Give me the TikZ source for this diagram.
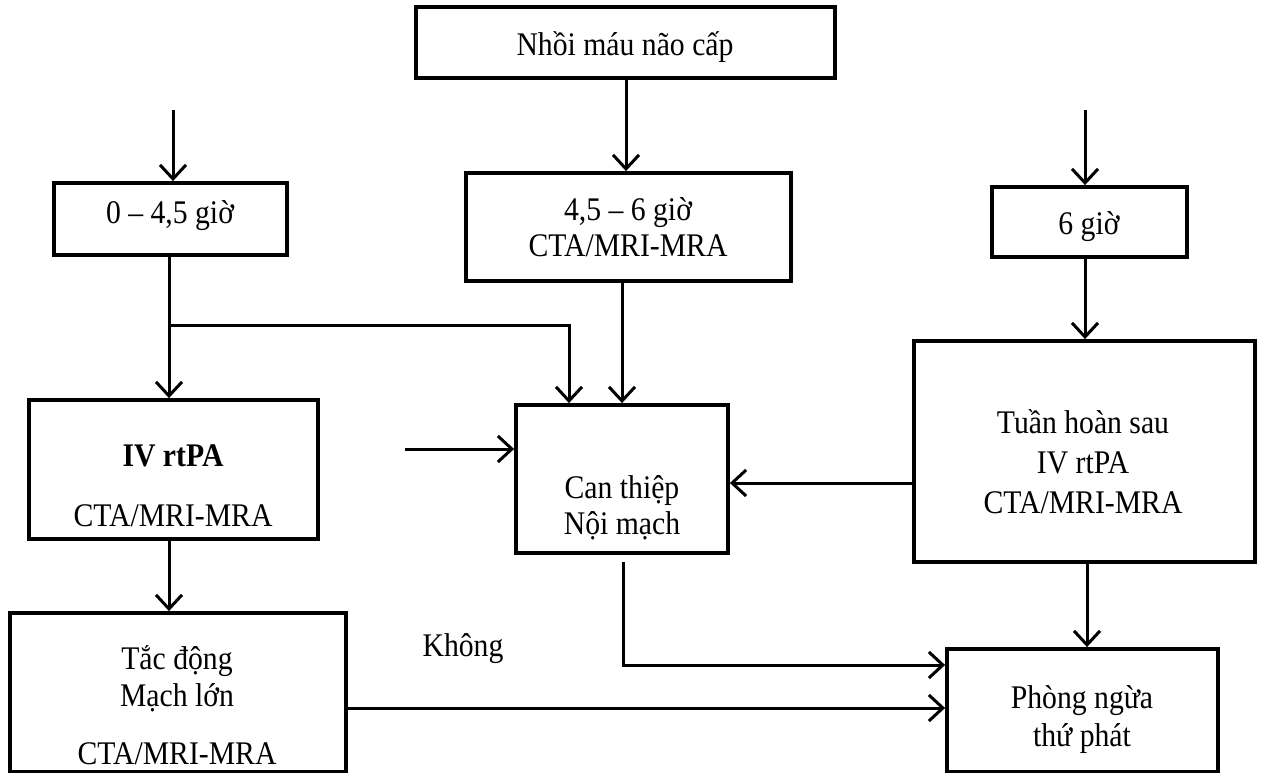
\documentclass[tikz,border=0pt]{standalone}
\usepackage{fontspec}
\setmainfont{Liberation Serif}[FakeStretch=0.9]
\usetikzlibrary{arrows.meta}
\begin{document}
\begin{tikzpicture}[x=1pt,y=-1pt,
  box/.style={draw,line width=3.8pt,inner sep=0pt},
  lbl/.style={anchor=base,inner sep=0pt,font=\fontsize{33}{35}\selectfont},
  arr/.style={line width=3pt,-{Straight Barb[length=14pt,width=26pt,line width=3pt]}},
  ln/.style={line width=3pt}]
\useasboundingbox (0,0) rectangle (1262,773);
% boxes
\node[box,minimum width=419pt,minimum height=71pt] (top) at (625.5,42.5) {};
\node[box,minimum width=233pt,minimum height=72pt] (b045) at (170.5,219) {};
\node[box,minimum width=325pt,minimum height=108pt] (b456) at (628.5,227) {};
\node[box,minimum width=195pt,minimum height=70pt] (b6) at (1089.5,222) {};
\node[box,minimum width=289pt,minimum height=139pt] (iv) at (173.5,469.5) {};
\node[box,minimum width=212pt,minimum height=148pt] (can) at (622,479) {};
\node[box,minimum width=341pt,minimum height=221pt] (tuan) at (1084.5,451.5) {};
\node[box,minimum width=336pt,minimum height=159pt] (tac) at (178,692.5) {};
\node[box,minimum width=271pt,minimum height=123pt] (phong) at (1082.5,710.5) {};
% texts
\node[lbl] (t1) at (625,56) {Nhồi máu não cấp};
\node[lbl] (t2) at (170,223) {0 – 4,5 giờ};
\node[lbl] (t3a) at (628,221) {4,5 – 6 giờ};
\node[lbl] (t3b) at (628,256) {CTA/MRI-MRA};
\node[lbl] (t4) at (1089,234) {6 giờ};
\node[lbl,font=\fontsize{33}{35}\selectfont\bfseries] (t5a) at (173,466) {IV rtPA};
\node[lbl] (t5b) at (173,526) {CTA/MRI-MRA};
\node[lbl] (t6a) at (622,498) {Can thiệp};
\node[lbl] (t6b) at (622,534) {Nội mạch};
\node[lbl] (t7a) at (1083,433) {Tuần hoàn sau};
\node[lbl] (t7b) at (1083,473) {IV rtPA};
\node[lbl] (t7c) at (1083,513) {CTA/MRI-MRA};
\node[lbl] (t8a) at (177,669) {Tắc động};
\node[lbl] (t8b) at (177,706) {Mạch lớn};
\node[lbl] (t8c) at (177,764) {CTA/MRI-MRA};
\node[lbl] (t9a) at (1082,708) {Phòng ngừa};
\node[lbl] (t9b) at (1082,746) {thứ phát};
\node[lbl] (kh) at (463,656) {Không};
% free ends
\coordinate (s1) at (173,110);
\coordinate (s2) at (1085,110);
\coordinate (s3) at (405,449);
\coordinate (br) at (169,325);
\coordinate (cs) at (623,562);
% connectors
\draw[arr] (s1) -- (s1 |- b045.north);
\draw[arr] (top.south -| 626,0) -- (b456.north -| 626,0);
\draw[arr] (s2) -- (s2 |- b6.north);
\draw[arr] (b045.south -| br) -- (iv.north -| br);
\draw[arr] (br) -- (569,325) -- (can.north -| 569,0);
\draw[arr] (b456.south -| 622,0) -- (can.north -| 622,0);
\draw[arr] (b6.south -| 1085,0) -- (tuan.north -| 1085,0);
\draw[arr] (iv.south -| br) -- (tac.north -| br);
\draw[arr] (s3) -- (s3 -| can.west);
\draw[arr] (tuan.west |- 0,483) -- (can.east |- 0,483);
\draw[arr] (cs) -- (623,665) -- (phong.west |- 0,665);
\draw[arr] (tac.east |- 0,708) -- (phong.west |- 0,708);
\draw[arr] (tuan.south -| 1087,0) -- (phong.north -| 1087,0);
\end{tikzpicture}
\end{document}
